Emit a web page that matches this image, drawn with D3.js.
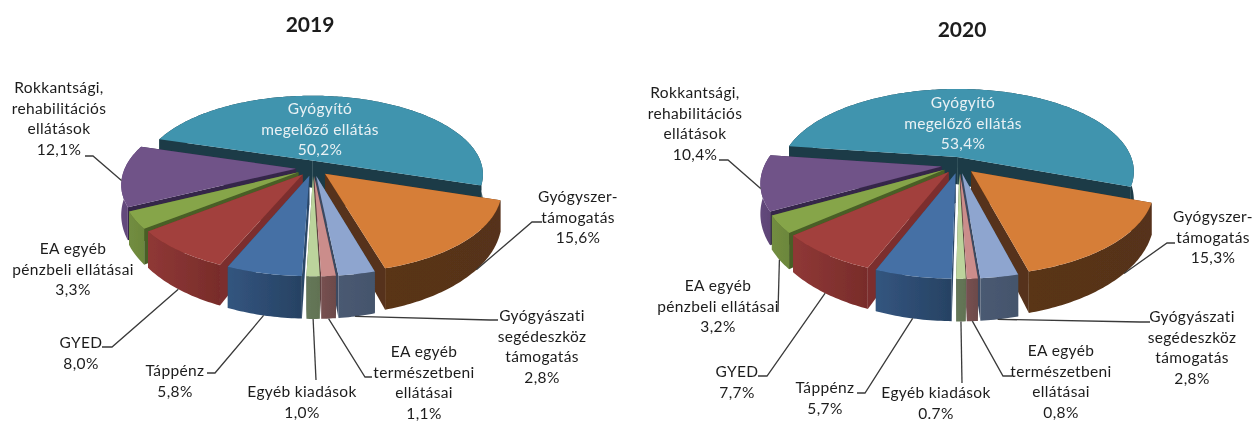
<!DOCTYPE html>
<html>
<head>
<meta charset="utf-8">
<script src="https://cdn.jsdelivr.net/npm/d3@7/dist/d3.min.js"></script>
<style>
    html, body { margin: 0; padding: 0; background: #fff; }
    svg { display: block; }
    text { font-family: Lato, "Open Sans", sans-serif; fill: #1c1c1c; }
</style>
</head>
<body>
<svg id="chart" width="1252" height="422"></svg>
<script>
"use strict";

var categories = [
    "Gyógyító megelőző ellátás", "Gyógyszer-támogatás", "Gyógyászati segédeszköz támogatás",
    "EA egyéb természetbeni ellátásai", "Egyéb kiadások", "Táppénz", "GYED",
    "EA egyéb pénzbeli ellátásai", "Rokkantsági, rehabilitációs ellátások"
],
    values2019 = [50.2, 15.6, 2.8, 1.1, 1.0, 5.8, 8.0, 3.3, 12.1],
    values2020 = [53.4, 15.3, 2.8, 0.8, 0.7, 5.7, 7.7, 3.2, 10.4],
    valueLabels2019 = ["50,2%", "15,6%", "2,8%", "1,1%", "1,0%", "5,8%", "8,0%", "3,3%", "12,1%"],
    valueLabels2020 = ["53,4%", "15,3%", "2,8%", "0,8%", "0.7%", "5,7%", "7,7%", "3,2%", "10,4%"],
    labelLines = [
        ["Gyógyító", "megelőző ellátás"], ["Gyógyszer-", "támogatás"],
        ["Gyógyászati", "segédeszköz", "támogatás"], ["EA egyéb", "természetbeni", "ellátásai"],
        ["Egyéb kiadások"], ["Táppénz"], ["GYED"],
        ["EA egyéb", "pénzbeli ellátásai"], ["Rokkantsági,", "rehabilitációs", "ellátások"]
    ],

    // top, wall left, wall right, cut face
    sliceColours = [
        ["#3f94ae", "#1b3b46", "#1b3b46", "#1b3b46"],
        ["#d67e38", "#5a3418", "#56331a", "#57331a"],
        ["#8ea5cf", "#4a5a72", "#44546c", "#3c4a60"],
        ["#cb8d8b", "#775050", "#6c4a4a", "#5e3f3f"],
        ["#bcd49c", "#66785a", "#617252", "#55654a"],
        ["#4470a5", "#33557f", "#274263", "#2b4668"],
        ["#a2403c", "#8f3836", "#782c2a", "#7c2f2d"],
        ["#86a54a", "#728d40", "#6c873c", "#4a5f26"],
        ["#6f5288", "#64497c", "#5d4476", "#36284a"]
    ],

    explode = 0.1,
    tealNudge = -0.035, // the big slice sits a little left of where the explosion puts it
    perspective = 0.18,
    depthPower = 1.9,

    svg = d3.select("#chart"),
    defs = svg.append("defs");

// the original is a soft screenshot
defs.append("filter").attr("id", "soft")
    .append("feGaussianBlur").attr("stdDeviation", 0.55);
defs.append("filter").attr("id", "soft-text")
    .append("feGaussianBlur").attr("stdDeviation", 0.3);

sliceColours.forEach(function(c, i) {
    var g = defs.append("linearGradient").attr("id", "wall-" + i);
    g.append("stop").attr("offset", "0%").attr("stop-color", c[1]);
    g.append("stop").attr("offset", "100%").attr("stop-color", c[2]);
});

var drawPie = function(cfg) {
    var x = d3.scaleLinear().domain([-1, 1]).range([cfg.cx - cfg.rx, cfg.cx + cfg.rx]),
        y = d3.scaleLinear().domain([-1, 1]).range([cfg.cy - cfg.ry, cfg.cy + cfg.ry]),
        depth = d3.scaleLinear().domain([0, 1]).range([0, cfg.depth]),
        line = d3.line().curve(d3.curveLinear),
        g = svg.append("g").attr("filter", "url(#soft)"),

        arcs = d3.pie().sort(null)
            .startAngle(cfg.start * Math.PI / 180)
            .endAngle((cfg.start + 360) * Math.PI / 180)(cfg.values),

        // unit disc point at clock angle a, moved out along the mid angle of its slice
        point = function(arc, a, r) {
            var mid = (arc.startAngle + arc.endAngle) / 2;
            return [
                r * Math.sin(a) + explode * Math.sin(mid) + (arc.index === 0 ? tealNudge : 0),
                -r * Math.cos(a) - explode * Math.cos(mid)
            ];
        },
        project = function(p, low) {
            var s = 1 / (1 - perspective * p[1]);
            return [
                x(p[0] * s),
                y(p[1] * s) + (low ? depth(Math.pow(s, depthPower)) : 0)
            ];
        },
        rim = function(arc, low) {
            var steps = Math.max(4, Math.ceil((arc.endAngle - arc.startAngle) * 60));
            return d3.range(steps + 1).map(function(k) {
                var a = arc.startAngle + (arc.endAngle - arc.startAngle) * k / steps;
                return project(point(arc, a, 1), low);
            });
        },
        face = function(arc, a) {
            return line([
                project(point(arc, a, 0), false), project(point(arc, a, 1), false),
                project(point(arc, a, 1), true), project(point(arc, a, 0), true)
            ]) + "Z";
        },
        order = d3.range(arcs.length).sort(function(a, b) {
            var midA = (arcs[a].startAngle + arcs[a].endAngle) / 2,
                midB = (arcs[b].startAngle + arcs[b].endAngle) / 2;
            return -Math.cos(midA) + Math.cos(midB);
        });

    g.selectAll("g.slice")
        .data(order)
        .enter().append("g")
        .classed("slice", true)
        .each(function(i) {
            var el = d3.select(this),
                arc = arcs[i],
                c = sliceColours[i],
                centre = project(point(arc, 0, 0), false);

            el.append("path").attr("d", face(arc, arc.startAngle)).attr("fill", c[3]);
            el.append("path").attr("d", face(arc, arc.endAngle)).attr("fill", c[3]);
            el.append("path")
                .attr("d", line(rim(arc, false).concat(rim(arc, true).reverse())) + "Z")
                .attr("fill", "url(#wall-" + i + ")");
            el.append("path")
                .attr("d", line([centre].concat(rim(arc, false))) + "Z")
                .attr("fill", c[0]);
        });

    // leader lines start on the rim of their slice
    var leaders = svg.append("g")
        .attr("fill", "none")
        .attr("stroke", "#3a3a3a")
        .attr("stroke-width", 1.3);

    cfg.leaders.forEach(function(l) {
        var arc = arcs[l.slice],
            a = arc.startAngle + (arc.endAngle - arc.startAngle) * l.at,
            from = project(point(arc, a, 1), !l.top);
        leaders.append("path").attr("d", line([from].concat(l.to)));
    });

    var texts = svg.append("g").attr("filter", "url(#soft-text)");

    texts.append("text")
        .attr("x", cfg.titleX).attr("y", cfg.titleY)
        .attr("text-anchor", "middle")
        .attr("font-size", 21).attr("font-weight", "bold")
        .text(cfg.title);

    cfg.labels.forEach(function(l, i) {
        var t = texts.append("text")
            .attr("text-anchor", "middle")
            .attr("font-size", 15.5)
            .attr("letter-spacing", 0.35)
            .style("fill", i === 0 ? "#e9f1f4" : null);
        labelLines[i].concat(cfg.valueLabels[i]).forEach(function(s, k) {
            t.append("tspan")
                .attr("x", l[0])
                .attr("y", l[1] + k * 20.6)
                .text(s);
        });
    });
};

drawPie({
    title: "2019", titleX: 310, titleY: 32,
    values: values2019, valueLabels: valueLabels2019,
    cx: 313, cy: 168, rx: 171, ry: 79, depth: 28, start: -73,
    labels: [[320, 114], [578, 202], [542, 321], [424, 357], [302, 397], [175, 376], [81, 348], [73, 254], [59, 93]],
    leaders: [
        {slice: 8, at: 0.42, top: true, to: [[93, 156], [85, 156]]},
        {slice: 1, at: 0.4, to: [[532, 222], [542, 222]]},
        {slice: 2, at: 0.55, to: [[490, 320], [498, 320]]},
        {slice: 3, at: 0.5, to: [[365, 377], [372, 377]]},
        {slice: 4, at: 0.5, to: [[316, 380]]},
        {slice: 5, at: 0.5, to: [[215, 373], [207, 373]]},
        {slice: 6, at: 0.5, to: [[112, 347], [102, 347]]}
    ]
});

drawPie({
    title: "2020", titleX: 962, titleY: 37,
    values: values2020, valueLabels: valueLabels2020,
    cx: 959, cy: 165, rx: 177, ry: 83, depth: 28, start: -82,
    labels: [[963, 108], [1213, 222], [1192, 322], [1061, 356], [936, 398], [825, 393], [737, 377], [718, 291], [695, 98]],
    leaders: [
        {slice: 8, at: 0.4, top: true, to: [[728, 160], [719, 160]]},
        {slice: 1, at: 0.4, to: [[1167, 243], [1175, 243]]},
        {slice: 2, at: 0.55, to: [[1140, 322], [1150, 322]]},
        {slice: 3, at: 0.5, to: [[1003, 376], [1012, 376]]},
        {slice: 4, at: 0.5, to: [[962, 383]]},
        {slice: 5, at: 0.5, to: [[865, 393], [857, 393]]},
        {slice: 6, at: 0.5, to: [[767, 376], [758, 376]]},
        {slice: 7, at: 0.5, to: [[778, 312]]}
    ]
});
</script>
</body>
</html>
